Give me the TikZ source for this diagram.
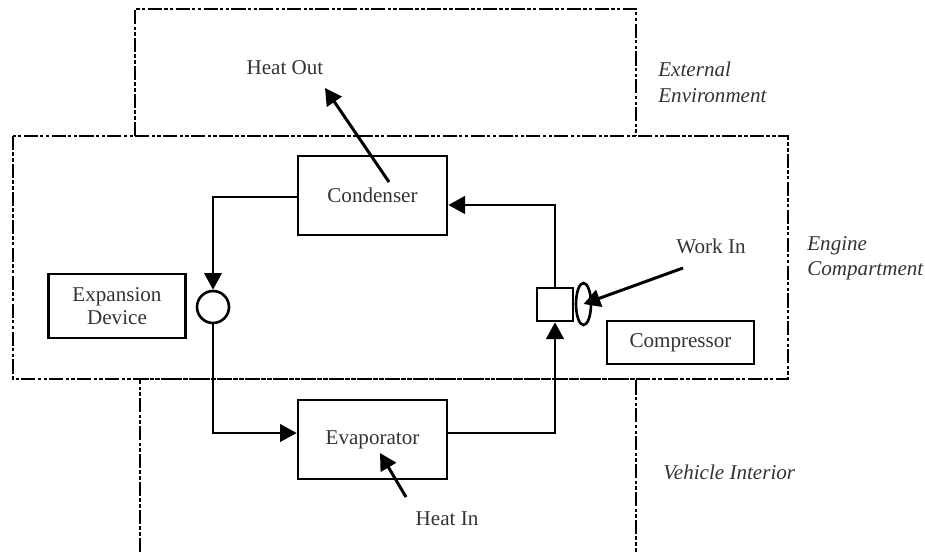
\documentclass[tikz,border=0pt]{standalone}
\usepackage{fontspec}
\setmainfont{Liberation Serif}
\usetikzlibrary{arrows.meta}
\usetikzlibrary{shapes.geometric}

\begin{document}
\begin{tikzpicture}[x=0.02cm,y=-0.02cm,
    every node/.style={font=\fontsize{12}{14.5}\selectfont, text=black!80},
    unit/.style={draw=black, line width=1.5pt, rectangle, inner sep=0pt},
    region/.style={line width=1.6pt, dash pattern=on 8pt off 1.3pt on 2pt off 1.3pt on 2pt off 1.3pt},
    flow/.style={line width=1.3pt, -{Triangle[length=9.5pt,width=10pt]}},
    heat/.style={line width=1.7pt, -{Triangle[length=9.5pt,width=10pt]}},
    zone/.style={font=\fontsize{12}{14.5}\selectfont\itshape, align=left, anchor=west, inner sep=0pt}]

    \useasboundingbox (0,0) rectangle (925,552);

    % Define the edges of the regions
    \def\ytop{9}   % top of external environment
    \def\yup{136}  % top of engine compartment
    \def\ylow{379} % bottom of engine compartment

    % Draw the regions
    \draw[region] (135,\yup) -- (135,\ytop) -- (636,\ytop) -- (636,\yup);
    \draw[region] (140,552) -- (140,\ylow) -- (636,\ylow) -- (636,552);
    \draw[region] (13,\yup) rectangle (788,\ylow);

    % Region names
    \node[zone] (extenv) at (658,82.5) {External\\Environment};
    \node[zone] (engcomp) at (807,258) {Engine\\Compartment};
    \node[zone] (vehint) at (663,472) {Vehicle Interior};

    % Components
    \node[unit, minimum width=2.98cm, minimum height=1.58cm] (cond) at (372.5,195.5) {Condenser};
    \node[unit, minimum width=2.98cm, minimum height=1.58cm] (evap) at (372.5,439.5) {Evaporator};
    \node[unit, minimum width=2.74cm, minimum height=1.28cm, align=center,
          font=\fontsize{12}{13}\selectfont] (expdev) at (117,306) {Expansion\\Device};
    \node[unit, minimum width=2.94cm, minimum height=0.86cm] (compbox) at (680.5,342.5) {Compressor};
    \node[unit, minimum width=0.72cm, minimum height=0.66cm] (comp) at (555,304.5) {};
    \node[draw, ellipse, line width=1.5pt, minimum width=0.3cm, minimum height=0.84cm, inner sep=0pt] (shaft) at (583.5,304) {};
    \node[draw, circle, line width=1.5pt, minimum size=0.64cm, inner sep=0pt] (valve) at (213,307) {};

    % Energy labels
    \node (heatout) at (285,68) {Heat Out};
    \node (workin) at (711,246) {Work In};
    \node (heatin) at (447,519) {Heat In};

    % Draw refrigerant loop
    \draw[flow] ([yshift=-0.03cm]cond.west) -| (valve.north);
    \draw[flow] (valve.south) |- ([yshift=0.13cm]evap.west);
    \draw[flow] ([yshift=0.13cm]evap.east) -| (comp.south);
    \draw[flow] (comp.north) |- ([yshift=-0.19cm]cond.east);

    % Draw energy arrows
    \coordinate (hotail) at (389,182);
    \coordinate (hotip) at (325,88);
    \coordinate (witail) at (683,268);
    \coordinate (hitail) at (406,497);
    \coordinate (hitip) at (380,453);
    \draw[heat] (hotail) -- (hotip);
    \draw[heat] (witail) -- (shaft.center);
    \draw[heat] (hitail) -- (hitip);

\end{tikzpicture}
\end{document}
